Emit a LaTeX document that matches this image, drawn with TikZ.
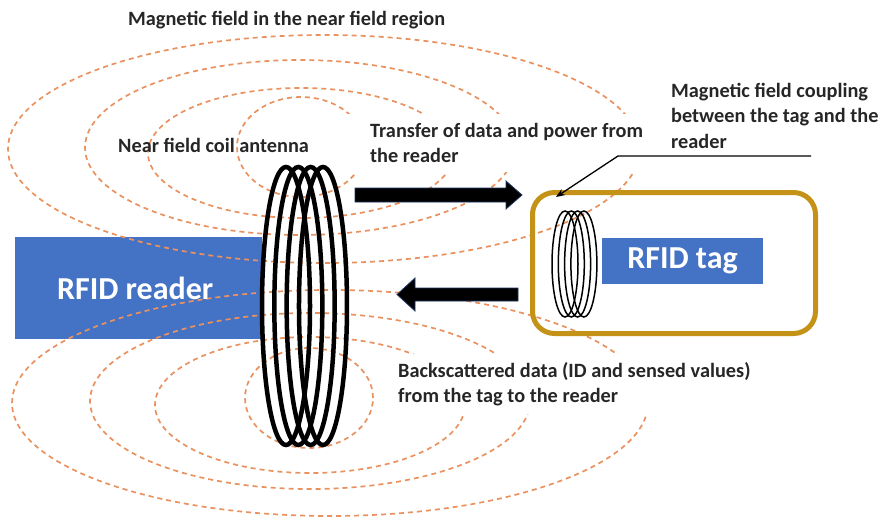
\documentclass[tikz,border=0pt]{standalone}
\usepackage{fontspec}
\setmainfont{Carlito}
\usetikzlibrary{arrows.meta}
\definecolor{fieldorange}{RGB}{233,146,96}
\definecolor{boxblue}{RGB}{68,114,196}
\definecolor{taggold}{RGB}{196,146,22}
\definecolor{arrowedge}{RGB}{31,56,100}

\begin{document}
\begin{tikzpicture}[x=1pt,y=-1pt,
  fieldline/.style={draw=fieldorange, line width=1.7pt, dash pattern=on 5pt off 4pt},
  gapband/.style={fill=white, draw=none},
  coilturn/.style={draw=black, line width=4.5pt},
  tagturn/.style={draw=black, line width=1.5pt},
  blockarrow/.style={fill=black, draw=arrowedge, line width=0.8pt},
  lbl/.style={inner sep=0pt, text=black!85, font=\bfseries\fontsize{20.3}{25.5}\selectfont, anchor=base west},
  boxlabel/.style={text=white, inner sep=0pt, font=\bfseries\fontsize{32}{36}\selectfont},
  pointer/.style={draw=black, line width=1.3pt, -{Stealth[length=9pt,width=7pt]}},
]
\useasboundingbox (0,0) rectangle (886,522);
\fill[white] (0,0) rectangle (886,522);

% reader body
\node[fill=boxblue, inner sep=0pt, minimum width=247, minimum height=102, anchor=north west] (readerbox) at (15,237) {};

% magnetic field lines above the coil axis
\draw[fieldline] (324,149) ellipse [x radius=316pt, y radius=114pt];
\draw[fieldline] (300,147.5) ellipse [x radius=215pt, y radius=87.5pt];
\draw[fieldline] (301,153) ellipse [x radius=153pt, y radius=65pt];
\draw[fieldline] (301,147) ellipse [x radius=64pt, y radius=50pt];
% magnetic field lines below the coil axis
\draw[fieldline] (330,403) ellipse [x radius=318pt, y radius=113pt];
\draw[fieldline] (310,401) ellipse [x radius=220pt, y radius=88pt];
\draw[fieldline] (310,405) ellipse [x radius=155pt, y radius=68pt];
\draw[fieldline] (309,398) ellipse [x radius=64pt, y radius=50pt];

% breaks in the field lines behind the two captions
\path[gapband] (340,114) rectangle (662,172);
\path[gapband] (380,354) rectangle (665,414);

% reader coil antenna
\foreach \i in {0,...,3}
  \draw[coilturn] ({286+12.33*\i},306) ellipse [x radius=24pt, y radius=139pt];

% tag enclosure
\node[draw=taggold, line width=5pt, rounded corners=22pt, inner sep=0pt,
      minimum width=283, minimum height=141, anchor=north west] (tagbox) at (530,190) {};
\node[fill=boxblue, inner sep=0pt, minimum width=161, minimum height=46] (tagchip) at (682.5,261) {};
\node[boxlabel] (taglbl) at (tagchip.center) {RFID tag};

% tag coil
\foreach \i in {0,...,3}
  \draw[tagturn] ({565+6.3*\i},264) ellipse [x radius=13pt, y radius=53pt];

% reader label
\node[boxlabel] (readerlbl) at ([xshift=-3.5pt]readerbox.center) {RFID reader};

% forward and backward transfer arrows
\path[blockarrow] (355,188) -- (506,188) -- (506,181) -- (522,195) -- (506,209) -- (506,202) -- (355,202) -- cycle;
\path[blockarrow] (518,288) -- (415,288) -- (415,278) -- (397,294.5) -- (415,311) -- (415,301) -- (518,301) -- cycle;

% captions
\node[lbl] (title) at (128,25) {Magnetic field in the near field region};
\node[lbl] (coillbl) at (118,152) {Near field coil antenna};
\node[lbl] (txlbl) at (370,137) {\begin{tabular}[t]{@{}l@{}}Transfer of data and power from\\the reader\end{tabular}};
\node[lbl] (cpllbl) at (671,97) {\begin{tabular}[t]{@{}l@{}}Magnetic field coupling\\between the tag and the\\reader\end{tabular}};
\node[lbl] (bslbl) at (398,377) {\begin{tabular}[t]{@{}l@{}}Backscattered data (ID and sensed values)\\from the tag to the reader\end{tabular}};

% leader from the coupling caption to the tag coil
\coordinate (cplend) at (811,156);
\coordinate (cplknee) at (618,156);
\coordinate (tagcoiltop) at (556,197);
\draw[pointer] (cplend) -- (cplknee) -- (tagcoiltop);
\end{tikzpicture}
\end{document}
